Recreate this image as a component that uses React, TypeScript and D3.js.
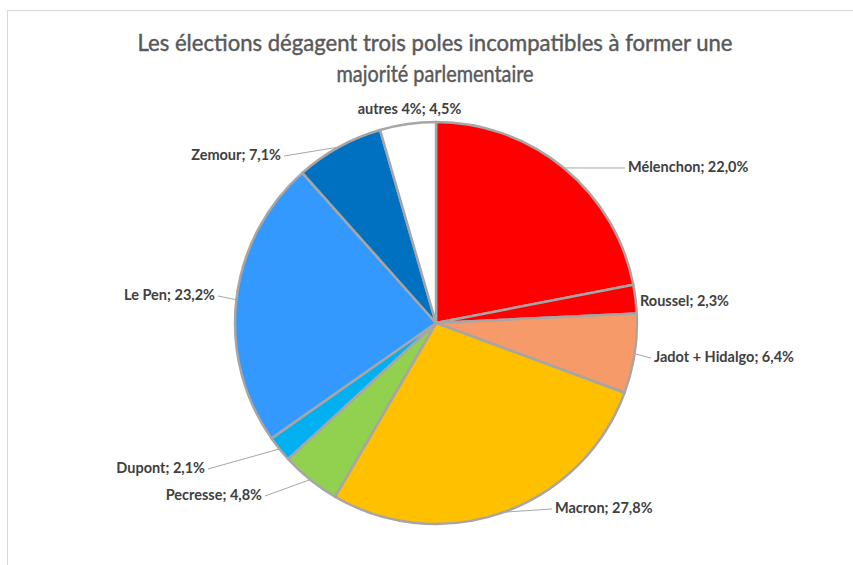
import React from "react";
import * as d3 from "d3";

const titleLines = [
  "Les élections dégagent trois poles incompatibles à former une",
  "majorité parlementaire",
];

const parties = [
  "Mélenchon",
  "Roussel",
  "Jadot + Hidalgo",
  "Macron",
  "Pecresse",
  "Dupont",
  "Le Pen",
  "Zemour",
  "autres 4%",
];

const shares = [22.0, 2.3, 6.4, 27.8, 4.8, 2.1, 23.2, 7.1, 4.5];

const sliceColors = [
  "#FF0000",
  "#FF0000",
  "#F79A6A",
  "#FFC000",
  "#92D050",
  "#00B0F0",
  "#3399FF",
  "#0070C0",
  "#FFFFFF",
];

// label layout (position of text, anchor, leader line)
const labelLayout = [
  { x: 628, y: 172, anchor: "start", leader: true },
  { x: 640, y: 306, anchor: "start", leader: false },
  { x: 654, y: 362, anchor: "start", leader: true },
  { x: 555, y: 513, anchor: "start", leader: true },
  { x: 262, y: 500, anchor: "end", leader: true },
  { x: 205, y: 473, anchor: "end", leader: true },
  { x: 215, y: 300, anchor: "end", leader: true },
  { x: 281, y: 160, anchor: "end", leader: true },
  { x: 409.5, y: 114, anchor: "middle", leader: false },
];

const W = 853;
const H = 565;
const cx = 436;
const cy = 323;
const R = 201;

const fmt = (v: number) => v.toFixed(1).replace(".", ",") + "%";

export default function App() {
  const pie = d3
    .pie<number>()
    .sort(null)
    .value((d) => d)
    .startAngle(0)
    .endAngle(2 * Math.PI);
  const arcs = pie(shares);
  const arc = d3.arc<d3.PieArcDatum<number>>().innerRadius(0).outerRadius(R);

  const edgePoint = (a: d3.PieArcDatum<number>) => {
    const m = (a.startAngle + a.endAngle) / 2;
    return [cx + R * Math.sin(m), cy - R * Math.cos(m)];
  };

  return (
    <svg
      width={W}
      height={H}
      style={{ position: "absolute", left: 0, top: 0, background: "#fff" }}
    >
      <rect x={0} y={0} width={W} height={H} fill="#fff" />
      <rect
        x={7.5}
        y={10.5}
        width={W + 10}
        height={H + 10}
        fill="#fff"
        stroke="#d9d9d9"
        strokeWidth={1}
      />
      {titleLines.map((t, i) => (
        <text
          key={i}
          x={435}
          y={51 + i * 31}
          textAnchor="middle"
          fontFamily="Lato, 'Open Sans', sans-serif"
          fontSize={24}
          fill="#595959"
          stroke="#595959"
          strokeWidth={0.45}
          textLength={i === 0 ? 595 : 197}
          lengthAdjust="spacingAndGlyphs"
        >
          {t}
        </text>
      ))}
      <g transform={`translate(${cx},${cy})`}>
        {arcs.map((a, i) => (
          <path
            key={i}
            d={arc(a) || ""}
            fill={sliceColors[i]}
            stroke="#A6A6A6"
            strokeWidth={2.5}
            strokeLinejoin="round"
          />
        ))}
      </g>
      {arcs.map((a, i) => {
        const L = labelLayout[i];
        if (!L.leader) return null;
        const [ex, ey] = edgePoint(a);
        const lx = L.anchor === "start" ? L.x - 3 : L.x + 3;
        const ly = L.y - 4;
        return (
          <path
            key={"l" + i}
            d={d3.line()([
              [ex, ey],
              [lx, ly],
            ]) || ""}
            fill="none"
            stroke="#A6A6A6"
            strokeWidth={1}
          />
        );
      })}
      {arcs.map((a, i) => {
        const L = labelLayout[i];
        return (
          <text
            key={"t" + i}
            x={L.x}
            y={L.y}
            textAnchor={L.anchor as any}
            fontFamily="Lato, 'Open Sans', sans-serif"
            fontWeight="bold"
            fontSize={14.5}
            fill="#404040"
          >
            {parties[i] + "; " + fmt(shares[i])}
          </text>
        );
      })}
    </svg>
  );
}
